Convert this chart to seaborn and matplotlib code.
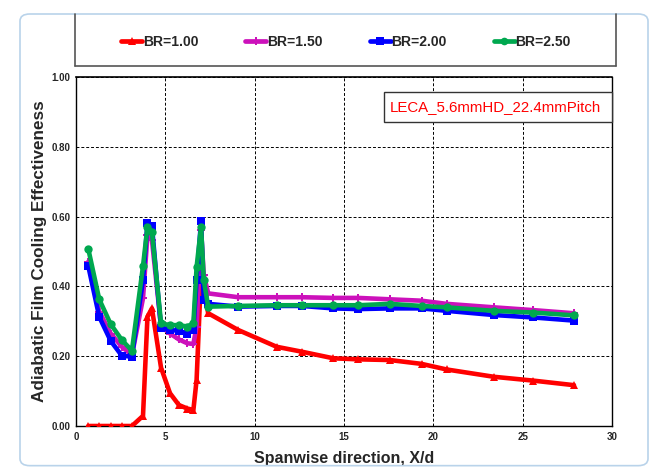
import numpy as np
import pandas as pd
import matplotlib
matplotlib.use("Agg")
import matplotlib.pyplot as plt
import seaborn as sns
from matplotlib.lines import Line2D
from matplotlib.patches import FancyBboxPatch, Rectangle

# ---- data ----
x_d = [0.69, 1.3, 1.94, 2.57, 3.13, 3.75, 4.0, 4.25, 4.76, 5.26, 5.76, 6.23, 6.57,
       6.75, 7.0, 7.15, 7.4, 9.08, 11.23, 12.63, 14.4, 15.8, 17.57, 19.34, 20.74,
       23.39, 25.6, 27.87]
br_100 = [0, 0, 0, 0, 0, 0.029, 0.313, 0.337, 0.167, 0.094, 0.06, 0.05, 0.046,
          0.132, 0.437, 0.39, 0.323, 0.275, 0.227, 0.213, 0.194, 0.191, 0.189,
          0.178, 0.162, 0.141, 0.13, 0.117]
br_150 = [0.471, 0.328, 0.265, 0.227, 0.203, 0.366, 0.547, 0.533, 0.285, 0.265,
          0.248, 0.237, 0.235, 0.285, 0.562, 0.433, 0.38, 0.369, 0.369, 0.369,
          0.367, 0.367, 0.363, 0.359, 0.35, 0.34, 0.332, 0.323]
br_200 = [0.458, 0.313, 0.244, 0.201, 0.199, 0.418, 0.581, 0.573, 0.28, 0.275,
          0.273, 0.264, 0.275, 0.418, 0.588, 0.361, 0.35, 0.342, 0.344, 0.344,
          0.337, 0.335, 0.337, 0.337, 0.33, 0.318, 0.311, 0.302]
br_250 = [0.507, 0.363, 0.292, 0.246, 0.216, 0.458, 0.571, 0.557, 0.294, 0.289,
          0.289, 0.285, 0.294, 0.455, 0.571, 0.418, 0.342, 0.344, 0.346, 0.346,
          0.346, 0.346, 0.35, 0.344, 0.34, 0.33, 0.325, 0.317]
series_names = ["BR=1.00", "BR=1.50", "BR=2.00", "BR=2.50"]
x_ticks = [0, 5, 10, 15, 20, 25, 30]
y_ticks = [0.0, 0.2, 0.4, 0.6, 0.8, 1.0]
annotation = "LECA_5.6mmHD_22.4mmPitch"

colors = ["#FF0000", "#CC11BB", "#0000FF", "#00A84F"]
markers = ["^", "P", "s", "o"]

frames = []
for name, vals in zip(series_names, [br_100, br_150, br_200, br_250]):
    frames.append(pd.DataFrame({"X/d": x_d, "eff": vals, "BR": name}))
df = pd.concat(frames, ignore_index=True)

sns.set_style("white")
plt.rcParams["font.family"] = ["Liberation Sans", "DejaVu Sans"]

fig = plt.figure(figsize=(6.58, 4.68), dpi=100)
ax = fig.add_axes([76 / 658, 1 - 426 / 468, (612 - 76) / 658, (426 - 77) / 468])

sns.lineplot(data=df, x="X/d", y="eff", hue="BR", style="BR",
             palette=dict(zip(series_names, colors)),
             markers=dict(zip(series_names, markers)), dashes=False,
             linewidth=3.3, markersize=6, markeredgewidth=0,
             ax=ax, legend=False, zorder=3)

ax.set_xlim(0, 30)
ax.set_ylim(0, 1.0)
ax.set_xticks(x_ticks)
ax.set_yticks(y_ticks)
ax.set_xticklabels([str(t) for t in x_ticks], fontsize=7, fontweight="bold")
ax.set_yticklabels([f"{t:.2f}" for t in y_ticks], fontsize=7, fontweight="bold")
ax.tick_params(axis="both", length=0, pad=4)
ax.grid(True, color="black", linestyle=(0, (3, 2)), linewidth=0.7)
ax.set_axisbelow(True)
for s in ["left", "bottom", "right"]:
    ax.spines[s].set_color("black")
    ax.spines[s].set_linewidth(1.0)
ax.spines["top"].set_linestyle((0, (1.5, 1)))
ax.spines["top"].set_color("black")
ax.spines["top"].set_linewidth(1.2)

ax.set_xlabel("Spanwise direction, X/d", fontsize=11.5, fontweight="bold", labelpad=7)
ax.set_ylabel("Adiabatic Film Cooling Effectiveness", fontsize=12.3,
              fontweight="bold", labelpad=3)

# annotation box
ax.add_patch(Rectangle((0.5746, 0.871), 1.0 - 0.5746, 0.957 - 0.871,
                       transform=ax.transAxes, fc="white", ec="#333333",
                       lw=1.0, zorder=4, clip_on=False))
ax.text(0.586, 0.914, annotation, transform=ax.transAxes, color="#FF0000",
        fontsize=10.8, va="center", ha="left", zorder=5)

# legend
handles = [Line2D([], [], color=c, marker=m, lw=3.4, markersize=5.5, markeredgewidth=0)
           for c, m in zip(colors, markers)]
fig.legend(handles, series_names, loc="center", bbox_to_anchor=(346 / 658, 1 - 42 / 468),
           ncol=4, frameon=False, prop=dict(size=10, weight="bold"),
           handlelength=1.5, handletextpad=0.05, columnspacing=3.4)

# legend box (left, right, bottom edges)
lx0, lx1 = 75 / 658, 616 / 658
ly0, ly1 = 1 - 66 / 468, 1 - 14 / 468
for xs, ys in [([lx0, lx0], [ly0, ly1]), ([lx1, lx1], [ly0, ly1]), ([lx0, lx1], [ly0, ly0])]:
    fig.add_artist(Line2D(xs, ys, transform=fig.transFigure, color="#555555", lw=1.2))

# window frame
fig.add_artist(FancyBboxPatch((20 / 658, 0.005), 628 / 658, 1 - 14 / 468 - 0.005,
                              boxstyle="round,pad=0,rounding_size=0.015",
                              transform=fig.transFigure, fc="none",
                              ec="#B9D3EA", lw=1.2))

fig.savefig("out.png", dpi=100)
